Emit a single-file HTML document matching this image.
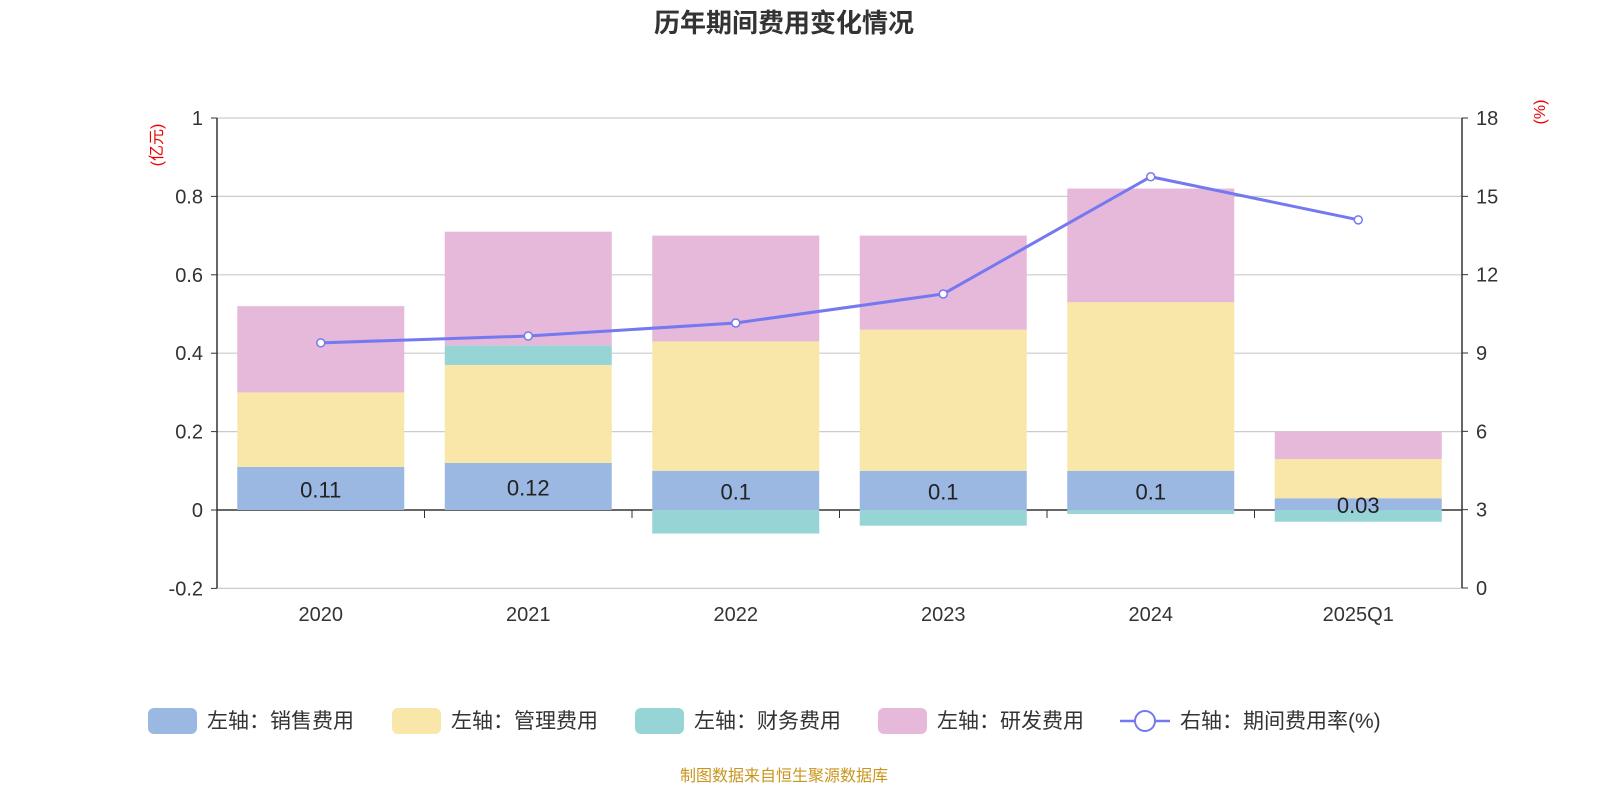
<!DOCTYPE html>
<html><head><meta charset="utf-8"><style>
body{margin:0;background:#fff;font-family:"Liberation Sans","Noto Sans CJK SC",sans-serif}
</style></head><body>
<svg id="chart" width="1600" height="800" xmlns="http://www.w3.org/2000/svg">
<text x="784" y="32" text-anchor="middle" font-size="26" font-weight="bold" fill="#333" font-family="Liberation Sans,Noto Sans CJK SC,sans-serif">历年期间费用变化情况</text>
<text transform="translate(162,145) rotate(-90)" text-anchor="middle" font-size="16" fill="#e00" font-family="Liberation Sans,Noto Sans CJK SC,sans-serif">(亿元)</text>
<text transform="translate(1545,112) rotate(-90)" text-anchor="middle" font-size="16" fill="#e00" font-family="Liberation Sans,sans-serif">(%)</text>
<g id="grid"></g><g id="bars"></g><g id="line"></g><g id="axes"></g>
<g font-size="21" fill="#333" font-family="Liberation Sans,Noto Sans CJK SC,sans-serif">
<rect x="148" y="708" width="49" height="26" rx="6" fill="#9bb8e2"/><text x="207" y="728">左轴：销售费用</text>
<rect x="392" y="708" width="49" height="26" rx="6" fill="#f8e7a8"/><text x="451" y="728">左轴：管理费用</text>
<rect x="635" y="708" width="49" height="26" rx="6" fill="#96d4d5"/><text x="694" y="728">左轴：财务费用</text>
<rect x="878" y="708" width="49" height="26" rx="6" fill="#e6b8d9"/><text x="937" y="728">左轴：研发费用</text>
<line x1="1120" y1="721" x2="1170" y2="721" stroke="#7479f0" stroke-width="2.5"/><circle cx="1145" cy="721" r="10" fill="#fff" stroke="#7479f0" stroke-width="2"/><text x="1180" y="728">右轴：期间费用率(%)</text>
</g>
<text x="784" y="781" text-anchor="middle" font-size="16" fill="#c8961e" font-family="Liberation Sans,Noto Sans CJK SC,sans-serif">制图数据来自恒生聚源数据库</text>
</svg>
<script>
const categories=["2020","2021","2022","2023","2024","2025Q1"];
const sales=[0.11,0.12,0.1,0.1,0.1,0.03];
const mgmt=[0.19,0.25,0.33,0.36,0.43,0.10];
const finance=[0,0.05,-0.06,-0.04,-0.01,-0.03];
const rd=[0.22,0.29,0.27,0.24,0.29,0.07];
const rate=[9.39,9.65,10.15,11.26,15.75,14.1];
const leftTicks=[-0.2,0,0.2,0.4,0.6,0.8,1];
const rightTicks=[0,3,6,9,12,15,18];
const NS="http://www.w3.org/2000/svg";
const X0=217,X1=1462,band=(X1-X0)/categories.length,barW=167;
const yL=v=>510-v*392;
const yR=v=>588-v*(470/18);
const xC=i=>X0+band*(i+0.5);
function mk(tag,attrs,parent,txt){const e=document.createElementNS(NS,tag);for(const k in attrs)e.setAttribute(k,attrs[k]);if(txt!==undefined)e.textContent=txt;document.getElementById(parent).appendChild(e);return e;}
leftTicks.forEach(t=>{
 const g=mk('line',{x1:X0,x2:X1,y1:yL(t),y2:yL(t),stroke:t===0?'#333':'#ccc','stroke-width':t===0?1.5:1.2},'grid');
 
 
 const l=mk('text',{x:X0-14,y:yL(t)+7,'text-anchor':'end','font-size':20,fill:'#333'},'axes',String(t));
 
 
 mk('line',{x1:X0-6,x2:X0,y1:yL(t),y2:yL(t),stroke:'#333'},'axes');
});
rightTicks.forEach(t=>{
 const l=mk('text',{x:X1+14,y:yR(t)+7,'font-size':20,fill:'#333'},'axes',String(t));
 
 
 mk('line',{x1:X1,x2:X1+6,y1:yR(t),y2:yR(t),stroke:'#333'},'axes');
});
mk('line',{x1:X0,x2:X0,y1:118,y2:588,stroke:'#333','stroke-width':1.5},'axes');
mk('line',{x1:X1,x2:X1,y1:118,y2:588,stroke:'#333','stroke-width':1.5},'axes');
categories.forEach((c,i)=>{
 if(i>0)mk('line',{x1:X0+band*i,x2:X0+band*i,y1:510,y2:518,stroke:'#333'},'axes');
 const l=mk('text',{x:xC(i),y:621,'text-anchor':'middle','font-size':20,fill:'#333'},'axes',c);
 
 
 let pos=0,neg=0;
 const segs=[[sales[i],'#9bb8e2','bar-sales'],[mgmt[i],'#f8e7a8','bar-mgmt'],[finance[i],'#96d4d5','bar-finance'],[rd[i],'#e6b8d9','bar-rd']];
 segs.forEach(([v,col,name])=>{
  if(v===0)return;
  let a,b;
  if(v>0){a=pos;b=pos+v;pos=b;}else{a=neg;b=neg+v;neg=b;}
  const r=mk('rect',{x:xC(i)-barW/2,y:Math.min(yL(a),yL(b)),width:barW,height:Math.abs(yL(a)-yL(b)),fill:col},'bars');
  
  
 });
 const t=mk('text',{x:xC(i),y:(yL(0)+yL(sales[i]))/2+9,'text-anchor':'middle','font-size':22,fill:'#222'},'bars',String(sales[i]));
 
 
});
const pts=rate.map((v,i)=>xC(i)+','+yR(v)).join(' ');
const pl=mk('polyline',{points:pts,fill:'none',stroke:'#7479f0','stroke-width':3},'line');


rate.forEach((v,i)=>{
 const c=mk('circle',{cx:xC(i),cy:yR(v),r:4,fill:'#fff',stroke:'#7479f0','stroke-width':1.5},'line');
 
 
});
</script>
</body></html>
